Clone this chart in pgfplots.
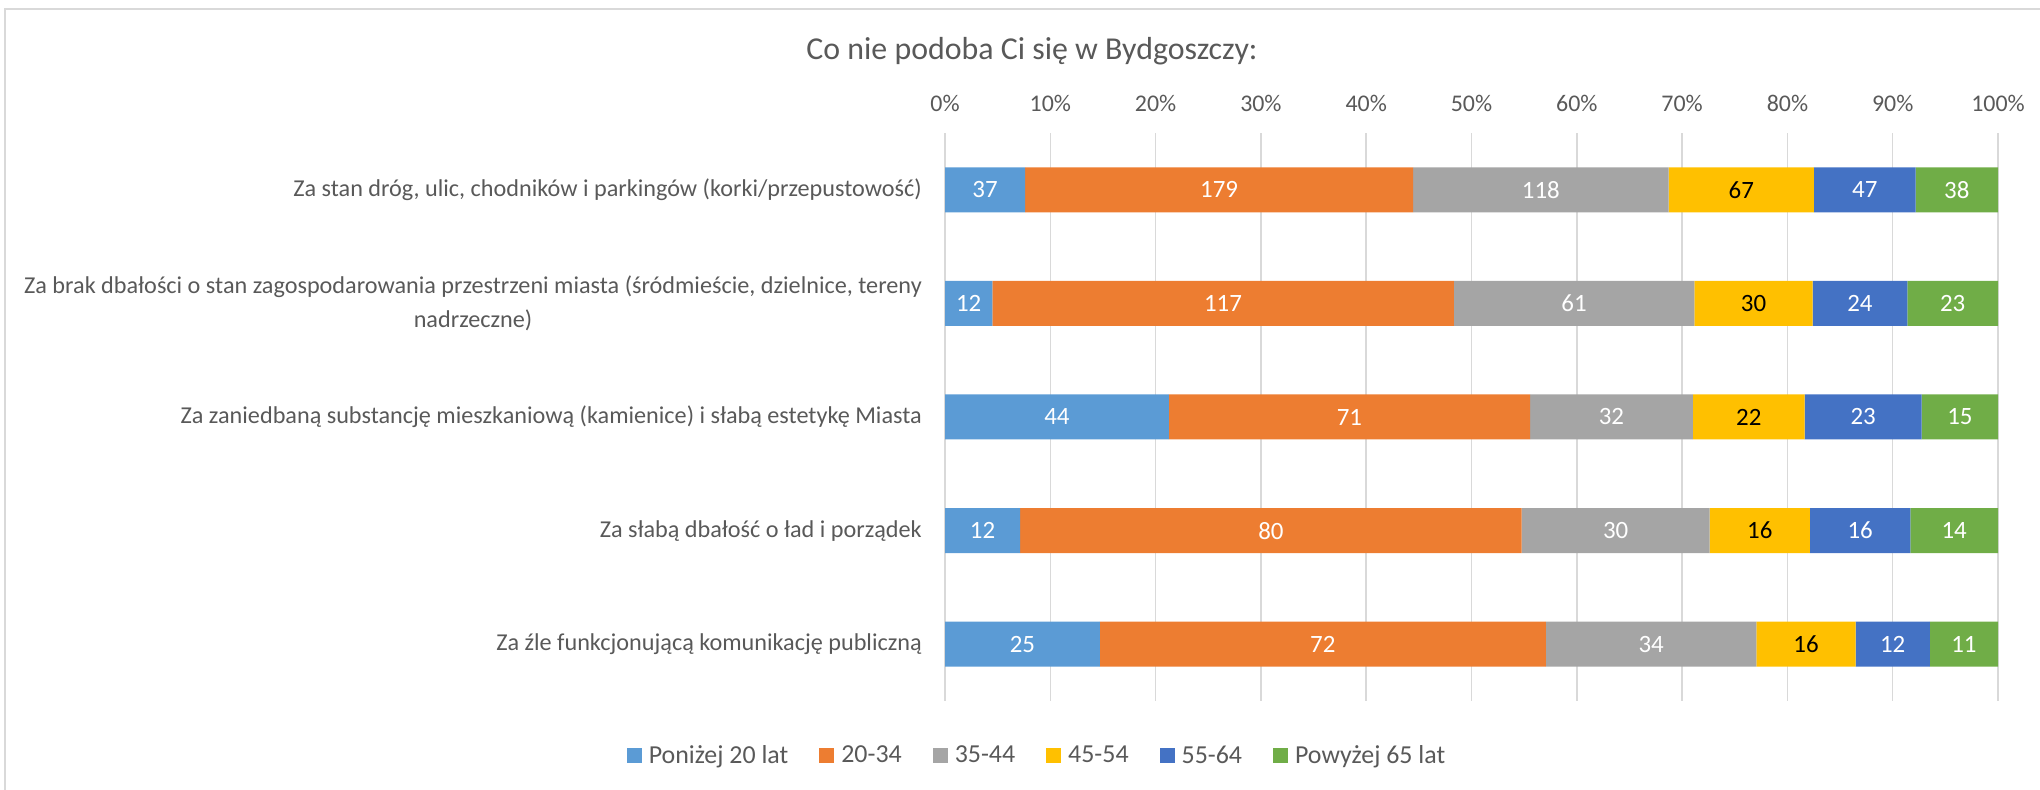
\documentclass[border=0pt]{standalone}
\usepackage{pgfplots}
\pgfplotsset{compat=1.18}
\usepackage{pgfplotstable}
\usepackage{fontspec}
\setmainfont{Carlito}
\definecolor{cA}{HTML}{5B9BD5}
\definecolor{cB}{HTML}{ED7D31}
\definecolor{cC}{HTML}{A5A5A5}
\definecolor{cD}{HTML}{FFC000}
\definecolor{cE}{HTML}{4472C4}
\definecolor{cF}{HTML}{70AD47}
\definecolor{txt}{HTML}{595959}
\definecolor{grd}{HTML}{D9D9D9}

% y: 4 = top row ... 0 = bottom row; pct = share of the row (percent), n = count shown as label
\pgfplotstableread{
y pct n
4 7.613 37
3 4.494 12
2 21.256 44
1 7.143 12
0 14.706 25
}\tA
\pgfplotstableread{
y pct n
4 36.831 179
3 43.820 117
2 34.300 71
1 47.619 80
0 42.353 72
}\tB
\pgfplotstableread{
y pct n
4 24.280 118
3 22.846 61
2 15.459 32
1 17.857 30
0 20.000 34
}\tC
\pgfplotstableread{
y pct n
4 13.786 67
3 11.236 30
2 10.628 22
1 9.524 16
0 9.412 16
}\tD
\pgfplotstableread{
y pct n
4 9.671 47
3 8.989 24
2 11.111 23
1 9.524 16
0 7.059 12
}\tE
\pgfplotstableread{
y pct n
4 7.819 38
3 8.614 23
2 7.246 15
1 8.332 14
0 6.469 11
}\tF

\begin{document}
\begin{tikzpicture}[x=1bp,y=1bp]
\path[use as bounding box] (0,0) rectangle (2040,790);
\draw[grd, line width=2bp] (5,0) -- (5,781) -- (2040,781);
\node[anchor=base, text=txt, font=\fontsize{32}{38}\selectfont] at (1032,730) {Co nie podoba Ci się w Bydgoszczy:};
\begin{axis}[
  at={(945bp,89bp)}, anchor=south west,
  scale only axis, width=1053bp, height=568bp,
  xbar stacked, bar width=45bp,
  xmin=0, xmax=100, ymin=-0.5, ymax=4.5,
  /pgf/number format/assume math mode=true,
  axis line style={draw=none},
  major tick length=0pt,
  xtick={0,10,...,100},
  xticklabel={\pgfmathprintnumber{\tick}\%},
  xticklabel pos=upper,
  xticklabel style={anchor=center, yshift=30bp, text=txt, font=\fontsize{24}{28}\selectfont},
  ytick={0,1,2,3,4},
  yticklabels={{Za źle funkcjonującą komunikację publiczną},
    {Za słabą dbałość o ład i porządek},
    {Za zaniedbaną substancję mieszkaniową (kamienice) i słabą estetykę Miasta},
    {Za brak dbałości o stan zagospodarowania przestrzeni miasta (śródmieście, dzielnice, tereny\\nadrzeczne)},
    {Za stan dróg, ulic, chodników i parkingów (korki/przepustowość)}},
  yticklabel style={anchor=east, align=center, xshift=-23bp, inner sep=0pt, text=txt, font=\fontsize{24.3}{34}\selectfont},
  xmajorgrids, grid style={grd, line width=1.5bp},
  ymajorgrids=false,
  point meta=explicit,
  nodes near coords={\pgfmathprintnumber{\pgfplotspointmeta}},
  nodes near coords align={center},
  every node near coord/.append style={anchor=center, font=\fontsize{25}{30}\selectfont},
  legend columns=6,
  legend style={at={(0.0864,-0.0951)}, anchor=center, draw=none, fill=none,
    font=\fontsize{26}{30}\selectfont, text=txt,
    /tikz/every even column/.append style={column sep=31bp},
    /tikz/every odd column/.append style={column sep=0bp},
    nodes={inner sep=0pt, anchor=west}},
  leg/.style={legend image code/.code={\fill[##1] (0bp,-7.5bp) rectangle (15bp,7.5bp); \path (22bp,0);}},
]
\addplot[fill=cA, draw=none, leg, nodes near coords style={text=white}] table[x=pct, y=y, meta=n] {\tA};
\addplot[fill=cB, draw=none, leg, nodes near coords style={text=white}] table[x=pct, y=y, meta=n] {\tB};
\addplot[fill=cC, draw=none, leg, nodes near coords style={text=white}] table[x=pct, y=y, meta=n] {\tC};
\addplot[fill=cD, draw=none, leg, nodes near coords style={text=black}] table[x=pct, y=y, meta=n] {\tD};
\addplot[fill=cE, draw=none, leg, nodes near coords style={text=white}] table[x=pct, y=y, meta=n] {\tE};
\addplot[fill=cF, draw=none, leg, nodes near coords style={text=white}] table[x=pct, y=y, meta=n] {\tF};
\legend{Poniżej 20 lat, 20-34, 35-44, 45-54, 55-64, Powyżej 65 lat}
\end{axis}
\end{tikzpicture}
\end{document}
